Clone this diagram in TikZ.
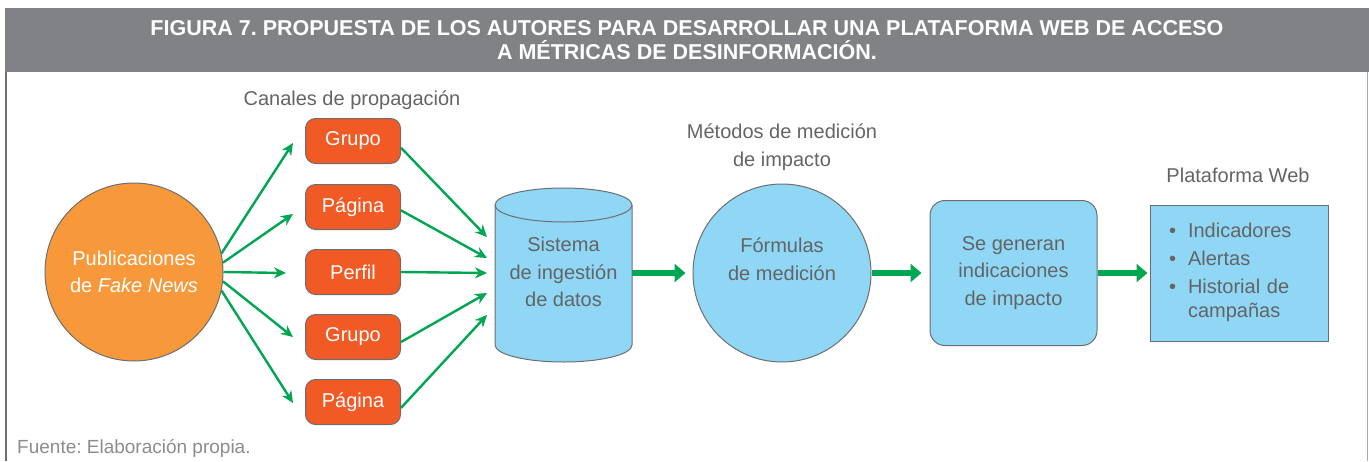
\documentclass[tikz,border=0pt]{standalone}
\usepackage{fontspec}
\setmainfont{Liberation Sans}
\usetikzlibrary{arrows.meta}

\definecolor{grisbanda}{HTML}{818285}
\definecolor{gristexto}{HTML}{636466}
\definecolor{grisborde}{HTML}{6D6E71}
\definecolor{grismarco}{HTML}{A7A9AC}
\definecolor{grisfuente}{HTML}{8A8C8E}
\definecolor{naranja}{HTML}{F7993A}
\definecolor{rojizo}{HTML}{F15A24}
\definecolor{celeste}{HTML}{8FD7F5}
\definecolor{verde}{HTML}{00A651}

\frenchspacing

\begin{document}
\begin{tikzpicture}[x=1pt, y=-1pt,
	canal/.style={shape=rectangle, rounded corners=10pt, draw=grisborde, line width=1pt, fill=rojizo, text=white, minimum width=95pt, minimum height=45pt, font=\fontsize{20}{24}\selectfont},
	bloque/.style={draw=grisborde, line width=1pt, fill=celeste, text=gristexto, align=center, font=\fontsize{20}{27.5}\selectfont},
	rotulo/.style={text=gristexto, align=center, font=\fontsize{20}{27.5}\selectfont},
	flecha/.style={-{Stealth[length=12pt, width=11pt]}, draw=verde, line width=2.4pt},
	flechota/.style={-{Triangle[length=11pt, width=18pt]}, draw=verde, line width=6pt}]
	
	\useasboundingbox (0,0) rectangle (1369,461);
	
	% marco y cabecera
	\fill[grisbanda] (5,8) rectangle (1369,72);
	\draw[grisborde, line width=2pt] (6,72) -- (6,461);
	\draw[grismarco, line width=1pt] (1367,72) -- (1367,461);
	\node[text=white, align=center, font=\bfseries\fontsize{21.5}{24.5}\selectfont] (titulo) at (687,40) {FIGURA 7. PROPUESTA DE LOS AUTORES PARA DESARROLLAR UNA PLATAFORMA WEB DE ACCESO\\A MÉTRICAS DE DESINFORMACIÓN.};
	
	\node[shape=circle, draw=grisborde, line width=1pt, fill=naranja, text=white, minimum size=178pt, inner sep=0pt, align=center, font=\fontsize{20}{27.5}\selectfont] (pub) at (134,272) {Publicaciones\\de \textit{Fake News}};
	
	\node[rotulo] (canales) at (352,100) {Canales de propagación};
	\node[canal] (g1) at (353,141) {Grupo};
	\node[canal] (g2) at (353,207) {Página};
	\node[canal] (g3) at (353,272) {Perfil};
	\node[canal] (g4) at (353,337) {Grupo};
	\node[canal] (g5) at (353,402) {Página};
	
	% cilindro
	\draw[grisborde, line width=1pt, fill=celeste] (495,205) -- (495,345) arc[start angle=180, end angle=360, x radius=68.5pt, y radius=17pt] -- (632,205) arc[start angle=0, end angle=180, x radius=68.5pt, y radius=17pt] -- cycle;
	\draw[grisborde, line width=1pt] (495,205) arc[start angle=180, end angle=360, x radius=68.5pt, y radius=17pt];
	\node[rotulo] (ingesta) at (563.5,272) {Sistema\\de ingestión\\de datos};
	\coordinate (sal) at (632,273);
	
	\node[rotulo] (metodos) at (782,147) {Métodos de medición\\de impacto};
	\node[bloque, shape=circle, minimum size=178pt, inner sep=0pt] (formulas) at (782,273) {};
	\node[rotulo] (formulas-txt) at (782,259) {Fórmulas\\de medición};
	
	\node[bloque, shape=rectangle, rounded corners=15pt, minimum width=167pt, minimum height=145pt] (genera) at (1013.5,273) {Se generan\\indicaciones\\de impacto};
	
	\node[rotulo] (plataforma) at (1238,175) {Plataforma Web};
	\node[bloque, shape=rectangle, minimum width=178pt, minimum height=136pt, text width=140pt, inner xsep=19pt, align=left] (web) at (1239,273) {\fontsize{20}{24}\selectfont\begin{tabular}{@{}l@{\hspace{12pt}}l@{}}
		\textbullet & Indicadores\\[4pt]
		\textbullet & Alertas\\[4pt]
		\textbullet & Historial de\\
		            & campañas
	\end{tabular}};
	
	\node[anchor=base west, inner sep=0pt, text=grisfuente, font=\fontsize{19}{22}\selectfont] (fuente) at (17,453) {Fuente: Elaboración propia.};
	
	% flechas hacia los canales
	\coordinate (e1) at (293,143);
	\coordinate (e2) at (293,214);
	\coordinate (e3) at (286,273);
	\coordinate (e4) at (293,337);
	\coordinate (e5) at (293,403);
	\path (pub.12) edge[flecha] (e1);
	\path (pub.6) edge[flecha] (e2);
	\path (pub.east) edge[flecha] (e3);
	\path (pub.-6) edge[flecha] (e4);
	\path (pub.-12) edge[flecha] (e5);
	
	% flechas hacia el cilindro
	\coordinate (d1) at (487,237);
	\coordinate (d2) at (487,258);
	\coordinate (d3) at (487,273);
	\coordinate (d4) at (487,293);
	\coordinate (d5) at (487,315);
	\path (g1.-8) edge[flecha] (d1);
	\path (g2.-4) edge[flecha] (d2);
	\path (g3.east) edge[flecha] (d3);
	\path (g4.-6) edge[flecha] (d4);
	\path (g5.-7) edge[flecha] (d5);
	
	\path (sal) edge[flechota, shorten >=7pt] (formulas);
	\path (formulas) edge[flechota, shorten >=8pt] (genera);
	\path (genera) edge[flechota, shorten >=2pt] (web);
	
\end{tikzpicture}
\end{document}
